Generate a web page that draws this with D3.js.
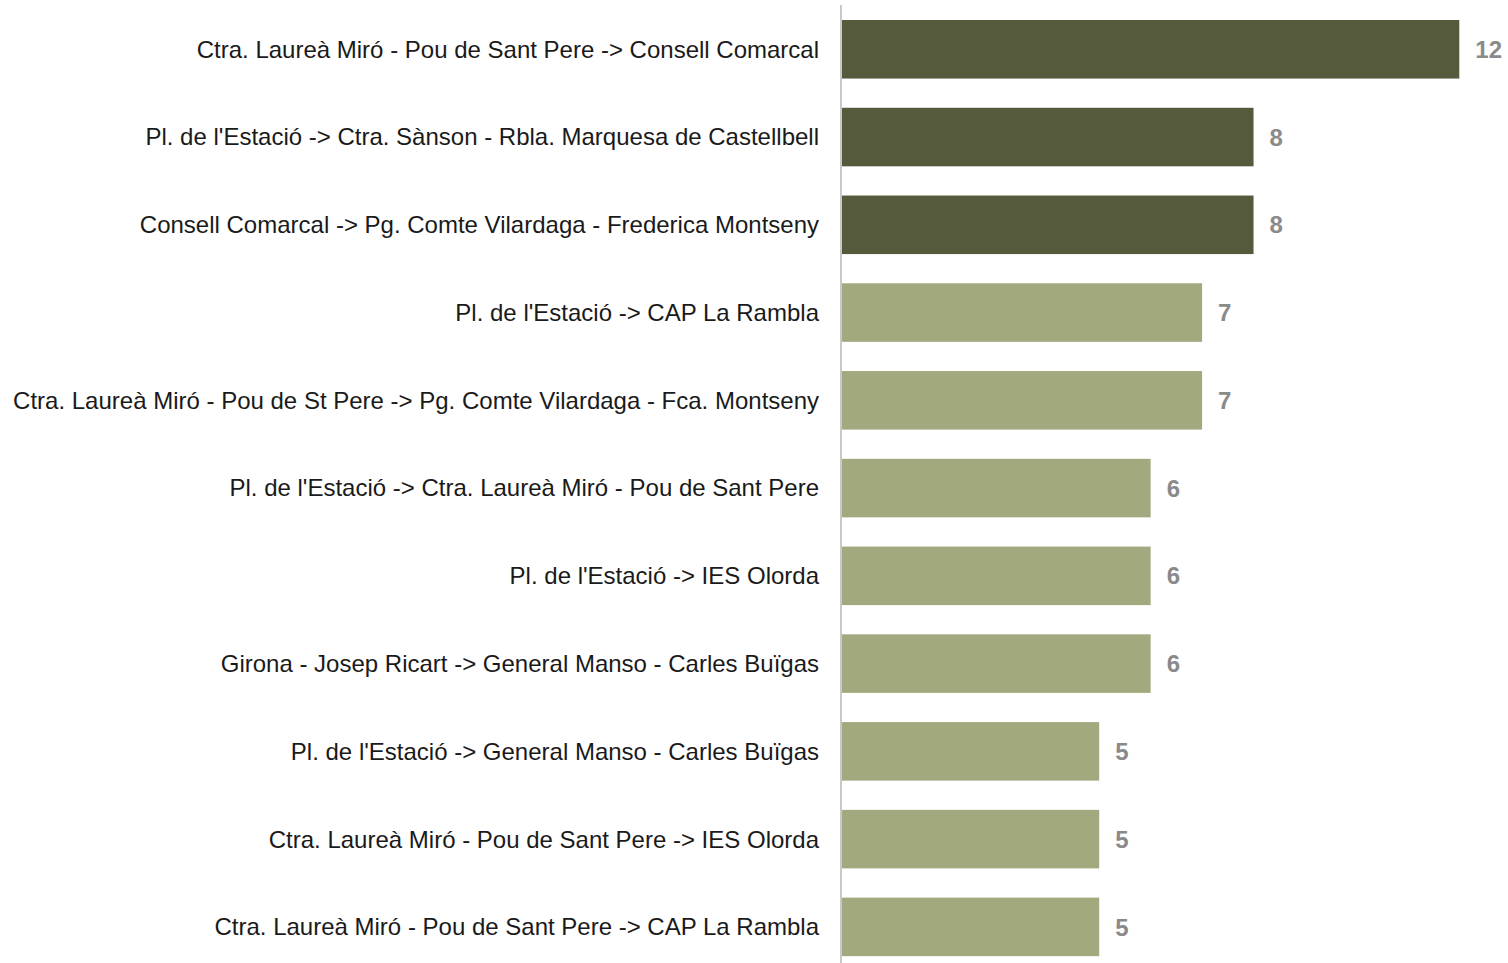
<!DOCTYPE html>
<html><head><meta charset="utf-8">
<script src="https://cdn.jsdelivr.net/npm/d3@7"></script>
<style>html,body{margin:0;padding:0;background:#fff;overflow:hidden}
svg text{font-family:"Liberation Sans", Arial, Helvetica, sans-serif;}</style>
</head><body>
<svg id="chart" width="1508" height="963"></svg>
<script>
const categories = [
  "Ctra. Laureà Miró - Pou de Sant Pere -> Consell Comarcal",
  "Pl. de l'Estació -> Ctra. Sànson - Rbla. Marquesa de Castellbell",
  "Consell Comarcal -> Pg. Comte Vilardaga - Frederica Montseny",
  "Pl. de l'Estació -> CAP La Rambla",
  "Ctra. Laureà Miró - Pou de St Pere -> Pg. Comte Vilardaga - Fca. Montseny",
  "Pl. de l'Estació -> Ctra. Laureà Miró - Pou de Sant Pere",
  "Pl. de l'Estació -> IES Olorda",
  "Girona - Josep Ricart -> General Manso - Carles Buïgas",
  "Pl. de l'Estació -> General Manso - Carles Buïgas",
  "Ctra. Laureà Miró - Pou de Sant Pere -> IES Olorda",
  "Ctra. Laureà Miró - Pou de Sant Pere -> CAP La Rambla"
];
const values = [12, 8, 8, 7, 7, 6, 6, 6, 5, 5, 5];
const highlighted = [true, true, true, false, false, false, false, false, false, false, false];

const svg = d3.select("#chart");
const x0 = 842;
const x = d3.scaleLinear().domain([0, 12]).range([x0, x0 + 617.3]);
const y = d3.scaleBand().domain(categories).range([5.4, 5.4 + 87.76 * 11]).paddingInner(0.333).paddingOuter(0.1665);

svg.selectAll("rect.bar").data(categories).join("rect")
  .attr("class", "bar")
  .attr("x", x(0))
  .attr("y", d => y(d))
  .attr("width", (d, i) => x(values[i]) - x(0))
  .attr("height", y.bandwidth())
  .attr("fill", (d, i) => highlighted[i] ? "#555a3c" : "#a3a97e");

svg.selectAll("text.val").data(categories).join("text")
  .attr("class", "val")
  .attr("x", (d, i) => x(values[i]) + 16)
  .attr("y", d => y(d) + y.bandwidth() / 2)
  .attr("dy", "0.36em")
  .style("font-weight", "bold")
  .style("font-size", "24px")
  .attr("fill", "#8a8a8a")
  .text((d, i) => values[i]);

const yAxis = d3.axisLeft(y).tickSize(0).tickPadding(22);
const g = svg.append("g").attr("transform", `translate(${x0 - 1},0)`).call(yAxis);
g.attr("font-family", null);
g.select(".domain").attr("stroke", "#c8c8c8").attr("stroke-width", 2)
  .attr("d", "M0,5V963");
g.selectAll("text")
  .style("font-size", "24px")
  .attr("dy", "0.35em")
  .attr("fill", "#1a1a1a");
</script>
</body></html>
